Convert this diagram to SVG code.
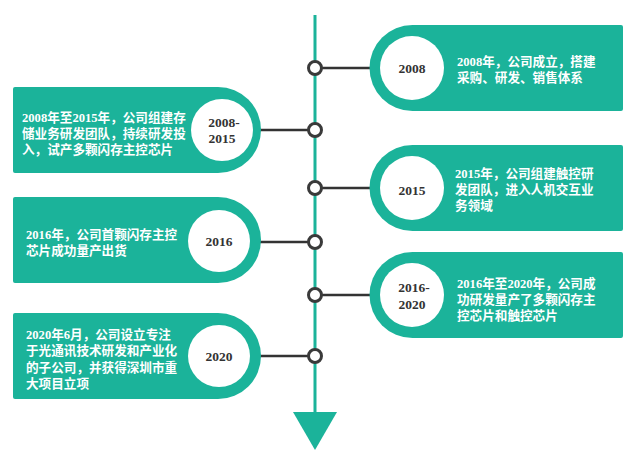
<svg xmlns="http://www.w3.org/2000/svg" width="640" height="457" viewBox="0 0 640 457">
<style>
.box{fill:#1bb39a}
.hole{fill:#ffffff}
.txt{font-family:"Liberation Serif","Noto Sans CJK SC",serif;font-size:12.6px;font-weight:bold;fill:#ffffff}
.yr{font-family:"Liberation Serif","Noto Sans CJK SC",serif;font-size:13.5px;font-weight:bold;fill:#333333;text-anchor:middle}
.conn{stroke:#333333;stroke-width:2.5;fill:none}
.dot{fill:#ffffff;stroke:#3a3a3a;stroke-width:3}
.axis{stroke:#1bb39a;stroke-width:3}
</style>
<rect width="640" height="457" fill="#ffffff"/>
<g id="axis">
<line class="axis" x1="315" y1="15" x2="315" y2="420"/>
<polygon points="293,412 337,412 315,450" fill="#1bb39a"/>
</g>
<g id="connectors">
<line class="conn" x1="315" y1="68" x2="372" y2="68"/>
<line class="conn" x1="258" y1="130" x2="315" y2="130"/>
<line class="conn" x1="315" y1="188" x2="372" y2="188"/>
<line class="conn" x1="258" y1="242" x2="315" y2="242"/>
<line class="conn" x1="315" y1="295" x2="372" y2="295"/>
<line class="conn" x1="258" y1="356" x2="315" y2="356"/>
<circle class="dot" cx="315" cy="68" r="6.5"/>
<circle class="dot" cx="315" cy="130" r="6.5"/>
<circle class="dot" cx="315" cy="188" r="6.5"/>
<circle class="dot" cx="315" cy="242" r="6.5"/>
<circle class="dot" cx="315" cy="295" r="6.5"/>
<circle class="dot" cx="315" cy="356" r="6.5"/>
</g>
<g id="n2008">
<path class="box" d="M412.5 25H621a2 2 0 0 1 2 2V109a2 2 0 0 1 -2 2H412.5A43 43 0 0 1 412.5 25Z"/>
<circle class="hole" cx="412" cy="68" r="32"/>
<text class="yr" x="412" y="73">2008</text>
<text class="txt" x="457" y="66">2008年，公司成立，搭建</text>
<text class="txt" x="457" y="82">采购、研发、销售体系</text>
</g>
<g id="n2008-2015">
<path class="box" d="M15 87H218A43 43 0 0 1 218 173H15a2 2 0 0 1 -2 -2V89a2 2 0 0 1 2 -2Z"/>
<circle class="hole" cx="222" cy="130" r="31"/>
<text class="yr" x="224" y="127">2008-</text>
<text class="yr" x="222" y="143">2015</text>
<text class="txt" x="22" y="122">2008年至2015年，公司组建存</text>
<text class="txt" x="22" y="138">储业务研发团队，持续研发投</text>
<text class="txt" x="22" y="154">入，试产多颗闪存主控芯片</text>
</g>
<g id="n2015">
<path class="box" d="M412.5 145H621a2 2 0 0 1 2 2V229a2 2 0 0 1 -2 2H412.5A43 43 0 0 1 412.5 145Z"/>
<circle class="hole" cx="412" cy="188" r="32"/>
<text class="yr" x="412" y="195">2015</text>
<text class="txt" x="455" y="178">2015年，公司组建触控研</text>
<text class="txt" x="455" y="194">发团队，进入人机交互业</text>
<text class="txt" x="455" y="210">务领域</text>
</g>
<g id="n2016">
<path class="box" d="M15 197H218A43 43 0 0 1 218 283H15a2 2 0 0 1 -2 -2V199a2 2 0 0 1 2 -2Z"/>
<circle class="hole" cx="219" cy="241" r="31"/>
<text class="yr" x="219" y="246">2016</text>
<text class="txt" x="26" y="239">2016年，公司首颗闪存主控</text>
<text class="txt" x="26" y="255">芯片成功量产出货</text>
</g>
<g id="n2016-2020">
<path class="box" d="M412.5 252H621a2 2 0 0 1 2 2V336a2 2 0 0 1 -2 2H412.5A43 43 0 0 1 412.5 252Z"/>
<circle class="hole" cx="412" cy="295" r="32"/>
<text class="yr" x="414" y="292">2016-</text>
<text class="yr" x="412" y="309">2020</text>
<text class="txt" x="457" y="288">2016年至2020年，公司成</text>
<text class="txt" x="457" y="304">功研发量产了多颗闪存主</text>
<text class="txt" x="457" y="320">控芯片和触控芯片</text>
</g>
<g id="n2020">
<path class="box" d="M15 313H218A43 43 0 0 1 218 399H15a2 2 0 0 1 -2 -2V315a2 2 0 0 1 2 -2Z"/>
<circle class="hole" cx="219" cy="356" r="31"/>
<text class="yr" x="219" y="361">2020</text>
<text class="txt" x="26" y="339">2020年6月，公司设立专注</text>
<text class="txt" x="26" y="355">于光通讯技术研发和产业化</text>
<text class="txt" x="26" y="372">的子公司，并获得深圳市重</text>
<text class="txt" x="26" y="388">大项目立项</text>
</g>
</svg>
